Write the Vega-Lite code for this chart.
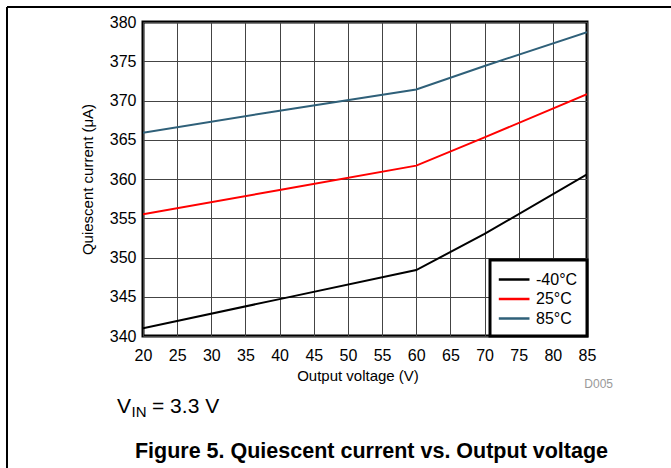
{
  "$schema": "https://vega.github.io/schema/vega-lite/v6.json",
  "width": 444,
  "height": 314,
  "autosize": "none",
  "padding": {"left": 143, "top": 22, "right": 84, "bottom": 132},
  "background": "white",
  "config": {
    "font": "Liberation Sans",
    "view": {"stroke": "#000", "strokeWidth": 3},
    "axis": {"labelFontSize": 16, "labelColor": "#000", "titleFontSize": 15, "titleFontWeight": "normal", "titleColor": "#000", "gridColor": "#444", "gridOpacity": 1, "gridWidth": 1, "ticks": false, "domain": false, "labelFont": "Liberation Sans", "titleFont": "Liberation Sans", "labelOverlap": false}
  },
  "datasets": {
    "curves": [
      {"v": 20, "iq": 341.0, "temp": "-40°C"},
      {"v": 40, "iq": 344.7, "temp": "-40°C"},
      {"v": 60, "iq": 348.4, "temp": "-40°C"},
      {"v": 70, "iq": 353.0, "temp": "-40°C"},
      {"v": 85, "iq": 360.6, "temp": "-40°C"},
      {"v": 20, "iq": 355.5, "temp": "25°C"},
      {"v": 40, "iq": 358.6, "temp": "25°C"},
      {"v": 60, "iq": 361.7, "temp": "25°C"},
      {"v": 70, "iq": 365.3, "temp": "25°C"},
      {"v": 85, "iq": 370.8, "temp": "25°C"},
      {"v": 20, "iq": 365.9, "temp": "85°C"},
      {"v": 40, "iq": 368.7, "temp": "85°C"},
      {"v": 60, "iq": 371.4, "temp": "85°C"},
      {"v": 70, "iq": 374.4, "temp": "85°C"},
      {"v": 85, "iq": 378.7, "temp": "85°C"}
    ]
  },
  "encoding": {
    "x": {"field": "v", "type": "quantitative", "scale": {"domain": [20, 85], "nice": false, "zero": false}, "axis": {"values": [20,25,30,35,40,45,50,55,60,65,70,75,80,85], "title": "Output voltage (V)", "labelPadding": 11, "titlePadding": 5, "labelFlush": false, "titleX": 214.5, "titleAlign": "center"}},
    "y": {"field": "iq", "type": "quantitative", "scale": {"domain": [340, 380], "nice": false, "zero": false}, "axis": {"values": [340,345,350,355,360,365,370,375,380], "title": "Quiescent current (μA)", "labelPadding": 7, "titlePadding": 14, "labelFlush": false}}
  },
  "layer": [
    {
      "data": {"name": "curves"},
      "mark": {"type": "line", "strokeWidth": 2, "clip": true},
      "encoding": {
        "color": {"field": "temp", "type": "nominal", "sort": ["-40°C", "25°C", "85°C"], "scale": {"domain": ["-40°C", "25°C", "85°C"], "range": ["#000000", "#ff0000", "#2f6079"]}, "legend": {"title": null, "orient": "bottom-right", "offset": 0, "strokeColor": "#000", "fillColor": "white", "padding": 9, "symbolType": "M-1.19,0L2.22,0", "symbolSize": 324, "symbolStrokeWidth": 2.5, "labelFontSize": 16, "labelFont": "Liberation Sans", "labelColor": "#000", "labelOffset": 16, "rowPadding": 0.5, "labelLimit": 200, "encode": {"legend": {"update": {"strokeWidth": {"value": 3}}}}}}
      }
    },
    {
      "data": {"values": [
        {"v": 16.19, "iq": 330.19, "t": "V"},
        {"v": 21.32, "iq": 330.19, "t": "= 3.3 V"}
      ]},
      "mark": {"type": "text", "align": "left", "baseline": "alphabetic", "fontSize": 21, "clip": false, "color": "#000"},
      "encoding": {"text": {"field": "t"}}
    },
    {
      "data": {"values": [{"v": 18.32, "iq": 329.72, "t": "IN"}]},
      "mark": {"type": "text", "align": "left", "baseline": "alphabetic", "fontSize": 15, "clip": false, "color": "#000"},
      "encoding": {"text": {"field": "t"}}
    },
    {
      "data": {"values": [{"v": 88.81, "iq": 333.38, "t": "D005"}]},
      "mark": {"type": "text", "align": "right", "baseline": "alphabetic", "fontSize": 12, "clip": false, "color": "#999999"},
      "encoding": {"text": {"field": "t"}}
    },
    {
      "data": {"values": [{"v": 53.45, "iq": 324.45, "t": "Figure 5. Quiescent current vs. Output voltage"}]},
      "mark": {"type": "text", "align": "center", "baseline": "alphabetic", "fontSize": 21.5, "fontWeight": "bold", "clip": false, "color": "#000"},
      "encoding": {"text": {"field": "t"}}
    },
    {
      "data": {"values": [
        {"v": 0.09, "v2": 97.4, "iq": 381.91, "iq2": 381.91},
        {"v": 0.09, "v2": 0.09, "iq": 381.91, "iq2": 323.0}
      ]},
      "mark": {"type": "rule", "color": "#000", "strokeWidth": 2, "clip": false},
      "encoding": {"x2": {"field": "v2"}, "y2": {"field": "iq2"}}
    }
  ]
}
